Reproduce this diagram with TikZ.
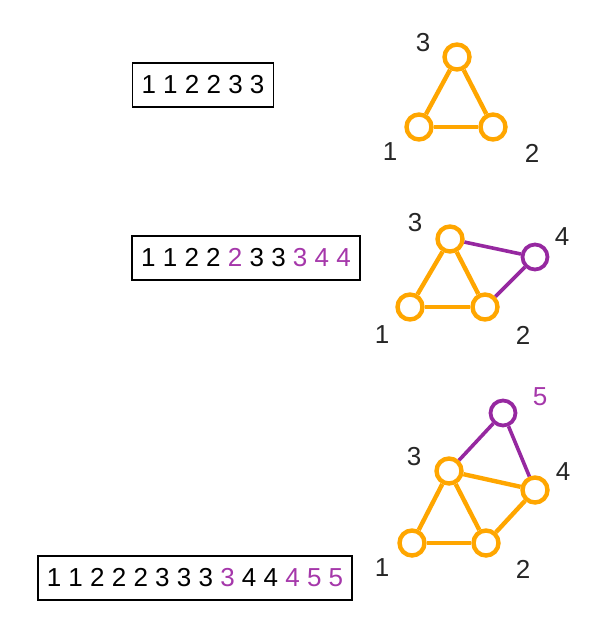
\documentclass[tikz,border=0pt]{standalone}
\usepackage{fontspec}
\setmainfont{Liberation Sans}
\definecolor{gorange}{RGB}{255,166,0}
\definecolor{gpurple}{RGB}{150,40,160}
\definecolor{tpurple}{RGB}{165,55,170}
\newcommand\newv[1]{\textcolor{tpurple}{#1}}
\tikzset{
    vtx/.style={circle,draw=gorange,line width=2.2pt,fill=white,minimum size=12.5pt,inner sep=0pt},
    pvtx/.style={vtx,draw=gpurple,line width=1.9pt},
    oedge/.style={draw=gorange,line width=2.2pt},
    pedge/.style={draw=gpurple,line width=1.8pt},
    lbl/.style={font=\fontsize{13}{15}\selectfont,text=black!85},
    seq/.style={draw,line width=0.75pt,inner xsep=4.5pt,minimum height=22pt,font=\fontsize{13}{15}\selectfont}
}
\begin{document}
\begin{tikzpicture}[x=0.5pt,y=-0.5pt]
    \useasboundingbox (0,0) rectangle (611,637);
    % sequences
    \node[seq] (s1) at (203,85) {1 1 2 2 3 3};
    \node[seq] (s2) at (246,258) {1 1 2 2 \newv{2} 3 3 \newv{3} \newv{4} \newv{4}};
    \node[seq] (s3) at (195,578) {1 1 2 2 2 3 3 3 \newv{3} 4 4 \newv{4} \newv{5} \newv{5}};
    % first graph
    \node[vtx] (a1) at (419,127) {};
    \node[vtx] (a2) at (493,127) {};
    \node[vtx] (a3) at (457,57) {};
    \foreach \u/\v in {a1/a2,a1/a3,a3/a2} {
        \draw[oedge] (\u) -- (\v);
    }
    \node[lbl] (la1) at (390,152) {1};
    \node[lbl] (la2) at (532,153) {2};
    \node[lbl] (la3) at (423,43) {3};
    % second graph
    \node[vtx] (b1) at (410,307) {};
    \node[vtx] (b2) at (485,307) {};
    \node[vtx] (b3) at (450,239) {};
    \node[pvtx] (b4) at (535,257) {};
    \foreach \u/\v in {b1/b2,b1/b3,b3/b2} {
        \draw[oedge] (\u) -- (\v);
    }
    \foreach \u/\v in {b3/b4,b4/b2} {
        \draw[pedge] (\u) -- (\v);
    }
    \node[lbl] (lb1) at (382,335) {1};
    \node[lbl] (lb2) at (523,335) {2};
    \node[lbl] (lb3) at (415,223) {3};
    \node[lbl] (lb4) at (562,237) {4};
    % third graph
    \node[vtx] (c1) at (412,543) {};
    \node[vtx] (c2) at (486,543) {};
    \node[vtx] (c3) at (449,471) {};
    \node[vtx] (c4) at (535,490) {};
    \node[pvtx] (c5) at (503,413) {};
    \foreach \u/\v in {c1/c2,c1/c3,c3/c2,c3/c4,c2/c4} {
        \draw[oedge] (\u) -- (\v);
    }
    \foreach \u/\v in {c3/c5,c5/c4} {
        \draw[pedge] (\u) -- (\v);
    }
    \node[lbl] (lc1) at (382,568) {1};
    \node[lbl] (lc2) at (523,569) {2};
    \node[lbl] (lc3) at (414,457) {3};
    \node[lbl] (lc4) at (563,472) {4};
    \node[lbl,text=tpurple] (lc5) at (540,397) {5};
\end{tikzpicture}
\end{document}
